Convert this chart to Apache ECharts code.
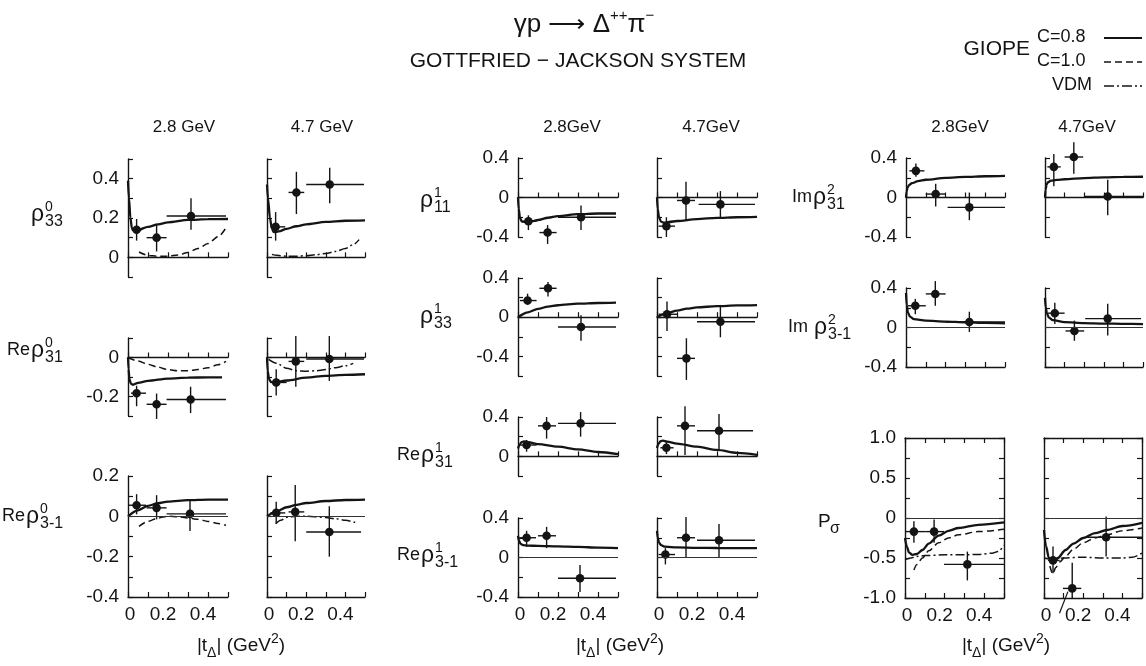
<!DOCTYPE html>
<html>
<head>
<meta charset="utf-8">
<title>γp → Δ++π− spin density matrix elements</title>
<script src="https://cdn.jsdelivr.net/npm/echarts@6.0.0/dist/echarts.min.js"></script>
<style>
  html, body { margin: 0; padding: 0; background: #ffffff; }
  #chart { width: 1146px; height: 666px; }
</style>
</head>
<body>
<div id="chart"></div>
<script>
// ---------------------------------------------------------------
// Data. Measured points: [|t|, value, |t| low, |t| high, value low, value high]
// Model curves: [|t|, value]
// ---------------------------------------------------------------
const xTickLabels = ['0', '0.2', '0.4'];
const yLabelsRho033 = ['0.4', '0.2', '0'];
const yLabelsReRho031 = ['0', '-0.2'];
const yLabelsReRho03m1 = ['0.2', '0', '-0.2', '-0.4'];
const yLabelsPM04 = ['0.4', '0', '-0.4'];
const yLabelsReRho131 = ['0.4', '0'];
const yLabelsPsig = ['1.0', '0.5', '0', '-0.5', '-1.0'];

// rho^0_33
const rho033_28_pts = [[0.043, 0.14, 0.018, 0.068, 0.085, 0.195], [0.143, 0.10, 0.093, 0.193, 0.03, 0.17], [0.315, 0.21, 0.193, 0.49, 0.14, 0.30]];
const rho033_28_c08 = [[0, 0.39], [0.005, 0.3], [0.012, 0.2], [0.02, 0.145], [0.03, 0.135], [0.05, 0.14], [0.1, 0.155], [0.15, 0.168], [0.2, 0.178], [0.3, 0.19], [0.4, 0.194], [0.5, 0.195]];
const rho033_28_c10 = [[0.055, 0.027], [0.1, 0.01], [0.15, 0.005], [0.2, 0.006], [0.25, 0.012], [0.3, 0.025], [0.35, 0.045], [0.4, 0.07], [0.45, 0.105], [0.49, 0.15]];
const rho033_47_pts = [[0.044, 0.155, 0.017, 0.093, 0.085, 0.23], [0.15, 0.33, 0.11, 0.19, 0.22, 0.435], [0.32, 0.37, 0.2, 0.495, 0.275, 0.455]];
const rho033_47_c08 = [[0, 0.37], [0.005, 0.3], [0.015, 0.2], [0.025, 0.145], [0.035, 0.128], [0.06, 0.132], [0.1, 0.145], [0.15, 0.158], [0.2, 0.168], [0.3, 0.18], [0.4, 0.186], [0.5, 0.188]];
const rho033_47_vdm = [[0.025, 0.015], [0.05, 0.01], [0.1, 0.006], [0.15, 0.006], [0.2, 0.008], [0.25, 0.013], [0.3, 0.02], [0.35, 0.03], [0.4, 0.045], [0.44, 0.065], [0.47, 0.09]];

// Re rho^0_31
const reRho031_28_pts = [[0.043, -0.183, 0.015, 0.09, -0.25, -0.145], [0.143, -0.24, 0.093, 0.193, -0.315, -0.185], [0.313, -0.215, 0.193, 0.49, -0.285, -0.15]];
const reRho031_28_c08 = [[0, 0], [0.003, -0.06], [0.007, -0.11], [0.015, -0.135], [0.025, -0.14], [0.05, -0.13], [0.1, -0.12], [0.2, -0.108], [0.3, -0.103], [0.4, -0.102], [0.47, -0.102]];
const reRho031_28_c10 = [[0, 0], [0.05, -0.018], [0.1, -0.035], [0.15, -0.05], [0.2, -0.062], [0.25, -0.068], [0.3, -0.068], [0.35, -0.062], [0.4, -0.052], [0.45, -0.037], [0.49, -0.02]];
const reRho031_47_pts = [[0.047, -0.128, 0.017, 0.1, -0.195, -0.06], [0.147, -0.02, 0.11, 0.19, -0.15, 0.11], [0.318, -0.008, 0.2, 0.495, -0.12, 0.11]];
const reRho031_47_c08 = [[0, 0], [0.004, -0.07], [0.01, -0.11], [0.02, -0.125], [0.04, -0.128], [0.1, -0.118], [0.2, -0.103], [0.3, -0.094], [0.4, -0.089], [0.5, -0.086]];
const reRho031_47_vdm = [[0.008, -0.01], [0.05, -0.03], [0.1, -0.055], [0.15, -0.068], [0.2, -0.07], [0.25, -0.068], [0.3, -0.062], [0.35, -0.052], [0.4, -0.042], [0.44, -0.03]];

// Re rho^0_3-1
const reRho03m1_28_pts = [[0.043, 0.055, 0.0, 0.09, 0.01, 0.11], [0.143, 0.042, 0.093, 0.193, -0.015, 0.105], [0.31, 0.012, 0.193, 0.49, -0.073, 0.083]];
const reRho03m1_28_c08 = [[0, 0], [0.05, 0.03], [0.1, 0.052], [0.15, 0.065], [0.2, 0.073], [0.3, 0.08], [0.4, 0.083], [0.5, 0.083]];
const reRho03m1_28_c10 = [[0.055, -0.05], [0.1, -0.025], [0.15, -0.008], [0.2, 0], [0.25, -0.002], [0.3, -0.008], [0.35, -0.015], [0.4, -0.025], [0.45, -0.035], [0.49, -0.045]];
const reRho03m1_47_pts = [[0.047, 0.017, 0.017, 0.093, -0.037, 0.072], [0.144, 0.022, 0.11, 0.19, -0.123, 0.155], [0.318, -0.078, 0.2, 0.48, -0.2, 0.05]];
const reRho03m1_47_c08 = [[0, 0], [0.05, 0.025], [0.1, 0.045], [0.15, 0.057], [0.2, 0.066], [0.3, 0.076], [0.4, 0.081], [0.5, 0.083]];
const reRho03m1_47_vdm = [[0.045, -0.037], [0.07, -0.02], [0.1, -0.005], [0.15, 0], [0.2, 0], [0.25, -0.002], [0.3, -0.006], [0.35, -0.012], [0.4, -0.02], [0.45, -0.03]];

// rho^1_11
const rho111_28_pts = [[0.052, -0.24, 0.018, 0.093, -0.33, -0.18], [0.148, -0.355, 0.107, 0.193, -0.47, -0.28], [0.315, -0.2, 0.2, 0.49, -0.33, -0.08]];
const rho111_28_c08 = [[0, 0], [0.004, -0.12], [0.01, -0.21], [0.02, -0.245], [0.04, -0.25], [0.07, -0.24], [0.1, -0.228], [0.15, -0.205], [0.2, -0.188], [0.3, -0.168], [0.4, -0.162], [0.49, -0.162]];
const rho111_47_pts = [[0.047, -0.29, 0.008, 0.09, -0.4, -0.2], [0.145, -0.03, 0.1, 0.19, -0.23, 0.16], [0.317, -0.07, 0.208, 0.49, -0.2, 0.065]];
const rho111_47_c08 = [[0, 0], [0.004, -0.12], [0.01, -0.2], [0.02, -0.245], [0.035, -0.255], [0.06, -0.248], [0.1, -0.238], [0.2, -0.218], [0.3, -0.206], [0.4, -0.2], [0.5, -0.196]];

// rho^1_33
const rho133_28_pts = [[0.048, 0.17, 0.01, 0.093, 0.125, 0.24], [0.15, 0.295, 0.107, 0.193, 0.21, 0.36], [0.315, -0.10, 0.2, 0.49, -0.24, 0.02]];
const rho133_28_c08 = [[0, 0], [0.05, 0.05], [0.1, 0.085], [0.15, 0.108], [0.2, 0.122], [0.3, 0.138], [0.4, 0.145], [0.49, 0.148]];
const rho133_47_pts = [[0.05, 0.03, 0.008, 0.1, -0.14, 0.16], [0.147, -0.42, 0.1, 0.19, -0.64, -0.215], [0.317, -0.046, 0.2, 0.49, -0.205, 0.125]];
const rho133_47_c08 = [[0, 0], [0.05, 0.04], [0.1, 0.068], [0.15, 0.087], [0.2, 0.1], [0.3, 0.113], [0.4, 0.12], [0.5, 0.123]];

// Re rho^1_31
const reRho131_28_pts = [[0.043, 0.115, 0.01, 0.093, 0.047, 0.166], [0.143, 0.31, 0.1, 0.19, 0.18, 0.40], [0.313, 0.335, 0.2, 0.49, 0.2, 0.45]];
const reRho131_28_c08 = [[0, 0.08], [0.008, 0.12], [0.018, 0.145], [0.03, 0.152], [0.05, 0.145], [0.1, 0.125], [0.2, 0.098], [0.3, 0.07], [0.4, 0.044], [0.5, 0.023]];
const reRho131_47_pts = [[0.047, 0.087, 0.017, 0.083, 0.023, 0.148], [0.14, 0.31, 0.1, 0.19, 0.013, 0.51], [0.31, 0.26, 0.2, 0.48, 0.074, 0.43]];
const reRho131_47_c08 = [[0, 0.085], [0.008, 0.13], [0.018, 0.155], [0.03, 0.16], [0.05, 0.15], [0.1, 0.13], [0.2, 0.098], [0.3, 0.065], [0.4, 0.035], [0.5, 0.015]];

// Re rho^1_3-1
const reRho13m1_28_pts = [[0.043, 0.2, 0.007, 0.09, 0.11, 0.27], [0.143, 0.22, 0.1, 0.19, 0.095, 0.31], [0.31, -0.21, 0.2, 0.49, -0.35, -0.075]];
const reRho13m1_28_c08 = [[0, 0.22], [0.005, 0.17], [0.012, 0.14], [0.025, 0.125], [0.05, 0.12], [0.1, 0.118], [0.2, 0.113], [0.3, 0.108], [0.4, 0.1], [0.5, 0.095]];
const reRho13m1_47_pts = [[0.042, 0.03, 0.008, 0.09, -0.07, 0.095], [0.145, 0.2, 0.1, 0.19, 0.0, 0.41], [0.31, 0.175, 0.2, 0.49, 0.0, 0.34]];
const reRho13m1_47_c08 = [[0, 0.27], [0.004, 0.2], [0.01, 0.15], [0.02, 0.125], [0.04, 0.11], [0.1, 0.102], [0.2, 0.098], [0.3, 0.096], [0.4, 0.095], [0.5, 0.095]];

// Im rho^2_31
const imRho231_28_pts = [[0.05, 0.27, 0.017, 0.093, 0.21, 0.345], [0.15, 0.035, 0.1, 0.2, -0.09, 0.14], [0.32, -0.1, 0.21, 0.5, -0.23, 0.05]];
const imRho231_28_c08 = [[0, 0], [0.003, 0.06], [0.008, 0.1], [0.015, 0.125], [0.03, 0.145], [0.06, 0.165], [0.1, 0.18], [0.2, 0.198], [0.3, 0.208], [0.4, 0.215], [0.5, 0.22]];
const imRho231_47_pts = [[0.045, 0.31, 0.012, 0.08, 0.115, 0.44], [0.147, 0.41, 0.1, 0.195, 0.24, 0.56], [0.32, 0.01, 0.2, 0.5, -0.18, 0.18]];
const imRho231_47_c08 = [[0, 0], [0.003, 0.08], [0.008, 0.13], [0.015, 0.155], [0.03, 0.17], [0.06, 0.178], [0.1, 0.185], [0.2, 0.197], [0.3, 0.204], [0.4, 0.208], [0.5, 0.21]];

// Im rho^2_3-1
const imRho23m1_28_pts = [[0.047, 0.22, 0.01, 0.1, 0.135, 0.29], [0.148, 0.34, 0.1, 0.2, 0.22, 0.47], [0.32, 0.055, 0.2, 0.5, -0.045, 0.16]];
const imRho23m1_28_c08 = [[0, 0.35], [0.004, 0.22], [0.01, 0.15], [0.02, 0.11], [0.04, 0.085], [0.1, 0.07], [0.2, 0.06], [0.3, 0.053], [0.4, 0.047], [0.5, 0.042]];
const imRho23m1_47_pts = [[0.05, 0.145, 0.012, 0.1, 0.035, 0.25], [0.15, -0.035, 0.105, 0.2, -0.135, 0.07], [0.32, 0.09, 0.205, 0.49, -0.08, 0.24]];
const imRho23m1_47_c08 = [[0, 0.3], [0.004, 0.2], [0.01, 0.14], [0.02, 0.1], [0.04, 0.075], [0.1, 0.055], [0.2, 0.045], [0.3, 0.04], [0.4, 0.037], [0.5, 0.035]];

// P_sigma
const psig_28_pts = [[0.045, -0.17, 0.0, 0.105, -0.31, -0.04], [0.147, -0.17, 0.105, 0.197, -0.31, -0.02], [0.315, -0.58, 0.197, 0.5, -0.78, -0.42]];
const psig_28_c08 = [[0, -0.25], [0.01, -0.36], [0.02, -0.43], [0.037, -0.46], [0.06, -0.45], [0.088, -0.4], [0.12, -0.32], [0.17, -0.22], [0.22, -0.16], [0.27, -0.125], [0.37, -0.085], [0.5, -0.055]];
const psig_28_c10 = [[0.045, -0.65], [0.06, -0.58], [0.088, -0.5], [0.12, -0.41], [0.17, -0.31], [0.22, -0.25], [0.27, -0.21], [0.37, -0.17], [0.5, -0.14]];
const psig_28_vdm = [[0, -0.52], [0.03, -0.5], [0.06, -0.48], [0.1, -0.47], [0.2, -0.46], [0.3, -0.46], [0.38, -0.455], [0.44, -0.44], [0.47, -0.42], [0.5, -0.34]];
const psig_47_pts = [[0.046, -0.53, 0.02, 0.08, -0.69, -0.355], [0.144, -0.88, 0.097, 0.19, -1.0, -0.56], [0.317, -0.24, 0.215, 0.5, -0.48, 0.02]];
const psig_47_c08 = [[0, -0.15], [0.01, -0.35], [0.025, -0.5], [0.046, -0.56], [0.07, -0.5], [0.11, -0.4], [0.15, -0.32], [0.2, -0.25], [0.26, -0.19], [0.32, -0.15], [0.4, -0.1], [0.5, -0.06]];
const psig_47_c10 = [[0.03, -0.6], [0.045, -0.7], [0.06, -0.62], [0.08, -0.55], [0.11, -0.48], [0.15, -0.39], [0.2, -0.31], [0.26, -0.25], [0.32, -0.21], [0.4, -0.16], [0.5, -0.125]];
const psig_47_vdm = [[0, -0.5], [0.05, -0.52], [0.1, -0.5], [0.2, -0.49], [0.3, -0.5], [0.4, -0.5], [0.45, -0.49], [0.5, -0.44]];
// pointer stroke below the 4.7 GeV P_sigma panel: [t1, v1, t2, v2]
const psig_47_pointer = [[0.079, -1.19, 0.122, -0.92]];

// ---------------------------------------------------------------
// Styling and layout
// ---------------------------------------------------------------
const INK = '#141414';
const SANS = '"Liberation Sans", Arial, sans-serif';

const curveStyles = {
  'C=0.8': { color: INK, width: 2.3, type: 'solid' },
  'C=1.0': { color: INK, width: 1.5, type: [7, 4] },
  'VDM':   { color: INK, width: 1.5, type: [9, 3, 2, 3] }
};

// grid boxes of the twenty small panels
const panels = [
  // rho^0 block
  { left: 128, top: 159, width: 100, height: 118, yMin: -0.1, yMax: 0.5, yStep: 0.1, yLabels: yLabelsRho033, zeroAxis: true,
    pts: rho033_28_pts, curves: [[rho033_28_c08, 'C=0.8'], [rho033_28_c10, 'C=1.0']] },
  { left: 267, top: 159, width: 98, height: 118, yMin: -0.1, yMax: 0.5, yStep: 0.1, yLabels: null, zeroAxis: true,
    pts: rho033_47_pts, curves: [[rho033_47_c08, 'C=0.8'], [rho033_47_vdm, 'VDM']] },
  { left: 128, top: 338, width: 100, height: 78, yMin: -0.3, yMax: 0.1, yStep: 0.1, yLabels: yLabelsReRho031, zeroAxis: true,
    pts: reRho031_28_pts, curves: [[reRho031_28_c08, 'C=0.8'], [reRho031_28_c10, 'C=1.0']] },
  { left: 267, top: 338, width: 98, height: 78, yMin: -0.3, yMax: 0.1, yStep: 0.1, yLabels: null, zeroAxis: true,
    pts: reRho031_47_pts, curves: [[reRho031_47_c08, 'C=0.8'], [reRho031_47_vdm, 'VDM']] },
  { left: 128, top: 476, width: 100, height: 121, yMin: -0.4, yMax: 0.2, yStep: 0.1, yLabels: yLabelsReRho03m1, zeroLine: true, xLabels: true,
    pts: reRho03m1_28_pts, curves: [[reRho03m1_28_c08, 'C=0.8'], [reRho03m1_28_c10, 'C=1.0']] },
  { left: 267, top: 476, width: 98, height: 121, yMin: -0.4, yMax: 0.2, yStep: 0.1, yLabels: null, zeroLine: true, xLabels: true,
    pts: reRho03m1_47_pts, curves: [[reRho03m1_47_c08, 'C=0.8'], [reRho03m1_47_vdm, 'VDM']] },
  // rho^1 block
  { left: 518, top: 158, width: 100, height: 79, yMin: -0.4, yMax: 0.4, yStep: 0.2, yLabels: yLabelsPM04, zeroAxis: true,
    pts: rho111_28_pts, curves: [[rho111_28_c08, 'C=0.8']] },
  { left: 657, top: 158, width: 100, height: 79, yMin: -0.4, yMax: 0.4, yStep: 0.2, yLabels: null, zeroAxis: true,
    pts: rho111_47_pts, curves: [[rho111_47_c08, 'C=0.8']] },
  { left: 518, top: 278, width: 100, height: 98, yMin: -0.6, yMax: 0.4, yStep: 0.2, yLabels: yLabelsPM04, zeroAxis: true,
    pts: rho133_28_pts, curves: [[rho133_28_c08, 'C=0.8']] },
  { left: 657, top: 278, width: 100, height: 98, yMin: -0.6, yMax: 0.4, yStep: 0.2, yLabels: null, zeroAxis: true,
    pts: rho133_47_pts, curves: [[rho133_47_c08, 'C=0.8']] },
  { left: 518, top: 417, width: 100, height: 59, yMin: -0.2, yMax: 0.4, yStep: 0.2, yLabels: yLabelsReRho131, zeroAxis: true,
    pts: reRho131_28_pts, curves: [[reRho131_28_c08, 'C=0.8']] },
  { left: 657, top: 417, width: 100, height: 59, yMin: -0.2, yMax: 0.4, yStep: 0.2, yLabels: null, zeroAxis: true,
    pts: reRho131_47_pts, curves: [[reRho131_47_c08, 'C=0.8']] },
  { left: 518, top: 518, width: 100, height: 79, yMin: -0.4, yMax: 0.4, yStep: 0.2, yLabels: yLabelsPM04, zeroLine: true, xLabels: true,
    pts: reRho13m1_28_pts, curves: [[reRho13m1_28_c08, 'C=0.8']] },
  { left: 657, top: 518, width: 100, height: 79, yMin: -0.4, yMax: 0.4, yStep: 0.2, yLabels: null, zeroLine: true, xLabels: true,
    pts: reRho13m1_47_pts, curves: [[reRho13m1_47_c08, 'C=0.8']] },
  // rho^2 and P_sigma block
  { left: 906, top: 158, width: 99, height: 79, yMin: -0.4, yMax: 0.4, yStep: 0.2, yLabels: yLabelsPM04, zeroAxis: true,
    pts: imRho231_28_pts, curves: [[imRho231_28_c08, 'C=0.8']] },
  { left: 1045, top: 158, width: 98, height: 79, yMin: -0.4, yMax: 0.4, yStep: 0.2, yLabels: null, zeroAxis: true,
    pts: imRho231_47_pts, curves: [[imRho231_47_c08, 'C=0.8']] },
  { left: 906, top: 288, width: 99, height: 79, yMin: -0.4, yMax: 0.4, yStep: 0.2, yLabels: yLabelsPM04, zeroLine: true,
    pts: imRho23m1_28_pts, curves: [[imRho23m1_28_c08, 'C=0.8']] },
  { left: 1045, top: 288, width: 98, height: 79, yMin: -0.4, yMax: 0.4, yStep: 0.2, yLabels: null, zeroLine: true,
    pts: imRho23m1_47_pts, curves: [[imRho23m1_47_c08, 'C=0.8']] },
  { left: 905, top: 438, width: 99, height: 160, yMin: -1, yMax: 1, yStep: 0.25, yLabels: yLabelsPsig, zeroLine: true, box: true, xLabels: true,
    pts: psig_28_pts, curves: [[psig_28_c08, 'C=0.8'], [psig_28_c10, 'C=1.0'], [psig_28_vdm, 'VDM']] },
  { left: 1044, top: 438, width: 98, height: 160, yMin: -1, yMax: 1, yStep: 0.25, yLabels: null, zeroLine: true, box: true, xLabels: true,
    pts: psig_47_pts, curves: [[psig_47_c08, 'C=0.8'], [psig_47_c10, 'C=1.0'], [psig_47_vdm, 'VDM']], pointer: psig_47_pointer }
];

function pickLabel(list) {
  return function (v) {
    if (!list) return '';
    for (const s of list) {
      if (Math.abs(parseFloat(s) - v) < 1e-6) return s;
    }
    return '';
  };
}

// x tick labels sit slightly left of their ticks, the zero a touch right
function xLabel(v) {
  const s = pickLabel(xTickLabels)(v);
  if (!s) return '';
  return (s === '0' ? '{z|' : '{n|') + s + '}';
}
const xLabelRich = {
  z: { fontSize: 19, fontFamily: SANS, color: INK, padding: [0, 0, 0, 4] },
  n: { fontSize: 19, fontFamily: SANS, color: INK, padding: [0, 10, 0, 0] }
};

// error bars with a filled marker
function renderPoint(params, api) {
  const t = api.value(0), v = api.value(1);
  const c = api.coord([t, v]);
  const l = api.coord([api.value(2), v]);
  const r = api.coord([api.value(3), v]);
  const lo = api.coord([t, api.value(4)]);
  const hi = api.coord([t, api.value(5)]);
  const st = { stroke: INK, lineWidth: 1.4 };
  return {
    type: 'group',
    children: [
      { type: 'line', shape: { x1: l[0], y1: l[1], x2: r[0], y2: r[1] }, style: st },
      { type: 'line', shape: { x1: lo[0], y1: lo[1], x2: hi[0], y2: hi[1] }, style: st },
      { type: 'circle', shape: { cx: c[0], cy: c[1], r: 4.3 }, style: { fill: INK } }
    ]
  };
}

function renderPointer(params, api) {
  const a = api.coord([api.value(0), api.value(1)]);
  const b = api.coord([api.value(2), api.value(3)]);
  return { type: 'line', shape: { x1: a[0], y1: a[1], x2: b[0], y2: b[1] }, style: { stroke: INK, lineWidth: 1.2 } };
}

const axisLineStyle = { color: INK, width: 1.4 };
const tickStyle = { color: INK, width: 1.2 };
const option = {
  animation: false,
  backgroundColor: '#ffffff',
  grid: [], xAxis: [], yAxis: [], series: [],
  graphic: { elements: [] }
};

panels.forEach((p, gi) => {
  option.grid.push({ left: p.left, top: p.top, width: p.width, height: p.height, containLabel: false });
  const xi = option.xAxis.length;
  option.xAxis.push({
    type: 'value', gridIndex: gi, position: 'bottom', min: 0, max: 0.5, interval: 0.1,
    axisLine: { show: true, onZero: !!p.zeroAxis, lineStyle: axisLineStyle },
    axisTick: { show: true, inside: true, length: 5, lineStyle: tickStyle },
    axisLabel: { show: !!p.xLabels, formatter: xLabel, rich: xLabelRich, color: INK, fontFamily: SANS, fontSize: 19, margin: 8 },
    splitLine: { show: false }
  });
  const yi = option.yAxis.length;
  option.yAxis.push({
    type: 'value', gridIndex: gi, position: 'left', min: p.yMin, max: p.yMax, interval: p.yStep,
    axisLine: { show: true, onZero: false, lineStyle: axisLineStyle },
    axisTick: { show: true, inside: true, length: 5, lineStyle: tickStyle },
    axisLabel: { show: !!p.yLabels, formatter: pickLabel(p.yLabels), color: INK, fontFamily: SANS, fontSize: 19, margin: 9 },
    splitLine: { show: false }
  });
  if (p.box) {
    option.xAxis.push({
      type: 'value', gridIndex: gi, position: 'top', min: 0, max: 0.5, interval: 0.1,
      axisLine: { show: true, onZero: false, lineStyle: axisLineStyle },
      axisTick: { show: true, inside: true, length: 5, lineStyle: tickStyle },
      axisLabel: { show: false }, splitLine: { show: false }
    });
    option.yAxis.push({
      type: 'value', gridIndex: gi, position: 'right', min: p.yMin, max: p.yMax, interval: p.yStep,
      axisLine: { show: true, onZero: false, lineStyle: axisLineStyle },
      axisTick: { show: true, inside: true, length: 5, lineStyle: tickStyle },
      axisLabel: { show: false }, splitLine: { show: false }
    });
  }
  p.curves.forEach(([data, model], ci) => {
    const s = {
      type: 'line', name: model, xAxisIndex: xi, yAxisIndex: yi, data: data,
      symbol: 'none', showSymbol: false, smooth: 0.3, smoothMonotone: 'x',
      lineStyle: curveStyles[model], silent: true, z: 3, clip: false
    };
    if (ci === 0 && p.zeroLine) {
      s.markLine = {
        silent: true, symbol: 'none', animation: false,
        label: { show: false },
        lineStyle: { color: '#333333', width: 1, type: 'solid' },
        data: [{ yAxis: 0 }]
      };
    }
    option.series.push(s);
  });
  option.series.push({
    type: 'custom', name: 'data', xAxisIndex: xi, yAxisIndex: yi, data: p.pts,
    renderItem: renderPoint, encode: { x: 0, y: 1 }, clip: false, silent: true, z: 4
  });
  if (p.pointer) {
    option.series.push({
      type: 'custom', name: 'pointer', xAxisIndex: xi, yAxisIndex: yi, data: p.pointer,
      renderItem: renderPointer, encode: { x: [0, 2], y: [1, 3] }, clip: false, silent: true, z: 4
    });
  }
});

// ---------------------------------------------------------------
// Text: title, legend, column headers, row labels, axis titles
// ---------------------------------------------------------------
const G = option.graphic.elements;
const measureCtx = document.createElement('canvas').getContext('2d');
function textWidth(str, size) {
  measureCtx.font = size + 'px ' + SANS;
  return measureCtx.measureText(str).width;
}
function text(x, y, str, size, extra) {
  const style = Object.assign({
    text: str, fill: INK, fontSize: size, fontFamily: SANS,
    align: 'left', verticalAlign: 'middle', textAlign: 'left', textVerticalAlign: 'middle'
  }, extra || {});
  G.push({ type: 'text', x: x, y: y, silent: true, style: style });
}

// title
text(584, 25, '', 26, {
  align: 'center', textAlign: 'center',
  text: '{a|γp ⟶ Δ}{s|++}{a|π}{s|−}',
  rich: {
    a: { fontSize: 26, fontFamily: SANS, fill: INK, lineHeight: 34 },
    s: { fontSize: 15, fontFamily: SANS, fill: INK, lineHeight: 16, verticalAlign: 'top' }
  }
});
text(578, 61, 'GOTTFRIED − JACKSON SYSTEM', 21, { align: 'center', textAlign: 'center' });

// legend
text(1030, 49, 'GIOPE', 21, { align: 'right', textAlign: 'right' });
text(1037, 37, 'C=0.8', 18);
text(1037, 61, 'C=1.0', 18);
text(1092, 85, 'VDM', 18, { align: 'right', textAlign: 'right' });
G.push({ type: 'line', silent: true, shape: { x1: 1104, y1: 38, x2: 1142, y2: 38 }, style: { stroke: INK, lineWidth: 2 } });
G.push({ type: 'line', silent: true, shape: { x1: 1104, y1: 62, x2: 1142, y2: 62 }, style: { stroke: INK, lineWidth: 1.6, lineDash: [7, 4] } });
G.push({ type: 'line', silent: true, shape: { x1: 1104, y1: 86, x2: 1142, y2: 86 }, style: { stroke: INK, lineWidth: 1.6, lineDash: [10, 3, 2, 3] } });

// energy headers
const headers = [[184, '2.8 GeV'], [322, '4.7 GeV'], [572, '2.8GeV'], [711, '4.7GeV'], [960, '2.8GeV'], [1087, '4.7GeV']];
headers.forEach(([x, s]) => text(x, 127, s, 17, { align: 'center', textAlign: 'center' }));

// row labels: optional prefix, the rho, then stacked superscript / subscript
const rowLabels = [
  { pre: '',   sup: '0', sub: '33',  x: 31,  y: 215 },
  { pre: 'Re', sup: '0', sub: '31',  x: 7,   y: 351 },
  { pre: 'Re', sup: '0', sub: '3-1', x: 2,   y: 517 },
  { pre: '',   sup: '1', sub: '11',  x: 420, y: 201 },
  { pre: '',   sup: '1', sub: '33',  x: 420, y: 317 },
  { pre: 'Re', sup: '1', sub: '31',  x: 397, y: 456 },
  { pre: 'Re', sup: '1', sub: '3-1', x: 397, y: 556 },
  { pre: 'Im', sup: '2', sub: '31',  x: 792, y: 198 },
  { pre: 'Im', sup: '2', sub: '3-1', x: 788, y: 328, gap: 6 }
];
rowLabels.forEach((r) => {
  let x = r.x;
  if (r.pre) {
    text(x, r.y - 1, r.pre, 18);
    x += textWidth(r.pre, 18) + (r.gap || 1);
  }
  text(x, r.y, 'ρ', 23);
  const sx = x + textWidth('ρ', 23) + 1;
  text(sx, r.y - 8, r.sup, 14);
  text(sx, r.y + 7, r.sub, 16);
});
text(818, 522, 'P', 19);
text(830, 529, 'σ', 16);

// |t_Delta| axis titles
const tTitleRich = {
  m: { fontSize: 19, fontFamily: SANS, fill: INK, lineHeight: 28 },
  b: { fontSize: 14, fontFamily: SANS, fill: INK, lineHeight: 14, verticalAlign: 'bottom' },
  p: { fontSize: 14, fontFamily: SANS, fill: INK, lineHeight: 14, verticalAlign: 'top' }
};
[241, 620, 1006].forEach((x) => {
  text(x, 646, '', 19, { align: 'center', textAlign: 'center', text: '{m||t}{b|Δ}{m|| (GeV}{p|2}{m|)}', rich: tTitleRich });
});

const chart = echarts.init(document.getElementById('chart'), null, { renderer: 'canvas' });
chart.setOption(option);
</script>
</body>
</html>
